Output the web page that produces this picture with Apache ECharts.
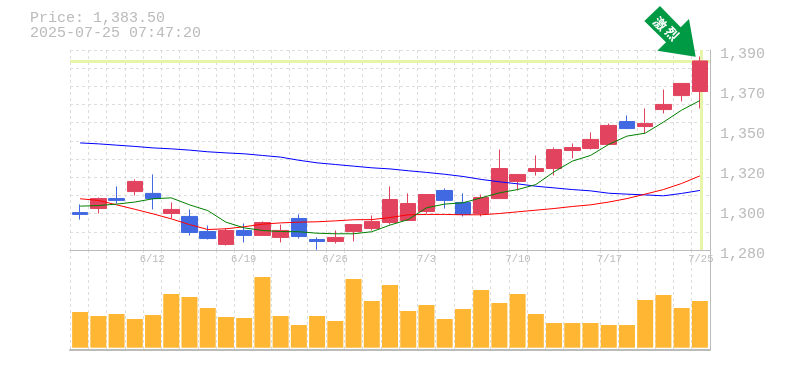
<!DOCTYPE html>
<html><head><meta charset="utf-8">
<style>html,body{margin:0;padding:0;background:#fff}#c{width:785px;height:370px}</style>
<script src="https://cdn.jsdelivr.net/npm/echarts@6/dist/echarts.min.js"></script>
</head><body><div id="c"></div>
<script>
const dates = ['6/6','6/9','6/10','6/11','6/12','6/13','6/16','6/17','6/18','6/19','6/20','6/23','6/24','6/25','6/26','6/27','6/30','7/1','7/2','7/3','7/4','7/7','7/8','7/9','7/10','7/11','7/14','7/15','7/16','7/17','7/18','7/22','7/23','7/24','7/25'];
const priceTickLabels = ['1,280','1,300','1,320','1,350','1,370','1,390'];
const opens  = [1301.2,1303.4,1308.8,1312.6,1311.6,1300.7,1299.1,1290.9,1283.9,1291.5,1288.8,1287.7,1298.0,1286.6,1285.5,1290.9,1292.6,1295.8,1296.9,1301.8,1313.2,1306.7,1300.7,1308.8,1318.1,1323.5,1325.1,1334.9,1336.0,1338.2,1350.6,1347.9,1357.1,1364.7,1366.9];
const closes = [1300.2,1308.8,1307.8,1318.1,1308.8,1302.9,1290.4,1287.1,1291.5,1288.8,1295.8,1291.5,1288.2,1285.5,1287.7,1294.7,1296.4,1308.3,1306.1,1311.0,1307.8,1300.2,1309.4,1325.1,1321.9,1325.1,1335.4,1336.5,1340.9,1348.5,1346.8,1349.5,1359.9,1371.3,1383.5];
const lows   = [1297.4,1300.7,1306.1,1310.5,1302.9,1298.0,1288.8,1286.6,1283.3,1285.0,1288.8,1285.0,1287.1,1281.0,1284.4,1285.5,1291.5,1294.7,1296.9,1300.7,1303.4,1299.1,1299.1,1308.8,1313.2,1321.3,1321.3,1330.6,1335.4,1338.2,1346.8,1344.1,1355.0,1361.5,1357.7];
const highs  = [1305.6,1309.4,1315.4,1319.2,1321.9,1306.7,1302.9,1294.2,1292.6,1295.3,1296.4,1294.7,1300.2,1287.7,1291.5,1294.7,1299.6,1315.4,1311.6,1311.0,1314.3,1311.6,1311.0,1335.4,1321.9,1332.2,1336.5,1338.7,1344.7,1349.5,1353.9,1357.7,1368.0,1371.3,1385.9];
const maGreen = [1304.7,1305.0,1305.8,1306.9,1308.7,1309.2,1305.4,1302.3,1296.0,1292.9,1291.5,1290.9,1290.8,1290.0,1289.7,1289.7,1290.8,1294.4,1297.4,1303.8,1305.8,1306.5,1309.2,1311.9,1313.7,1316.4,1323.3,1329.1,1332.2,1338.2,1342.7,1344.3,1350.3,1356.8,1362.0];
const maRed   = [1308.7,1307.8,1305.4,1303.0,1300.5,1297.8,1294.7,1292.0,1292.4,1293.5,1294.9,1295.6,1296.0,1296.2,1296.7,1297.3,1297.4,1298.5,1300.0,1300.2,1300.2,1300.0,1300.0,1300.7,1301.6,1302.5,1303.4,1304.5,1305.4,1306.9,1308.8,1311.2,1313.7,1317.0,1321.1];
const maBlue  = [1339.0,1338.5,1337.8,1337.1,1336.3,1335.8,1335.1,1334.2,1333.6,1333.1,1332.2,1331.3,1329.6,1328.2,1327.3,1326.4,1325.5,1324.9,1323.9,1323.0,1322.0,1320.8,1319.2,1317.9,1316.8,1315.5,1314.6,1313.7,1313.0,1311.7,1311.2,1310.8,1310.3,1311.6,1313.2];
const volumes = [35.7,31.7,33.7,28.7,32.7,53.7,50.7,39.7,30.7,29.7,70.7,31.7,22.7,31.7,26.7,68.7,46.7,62.7,36.7,42.7,28.7,38.7,57.7,44.7,53.7,33.7,24.7,24.7,24.7,22.7,22.7,47.7,52.7,39.7,46.7];
const lastPrice = 1383.5;

const GRAY='#bbbbbb', GRID='#dddddd', MONO='"Liberation Mono", monospace';
const dash={show:true,lineStyle:{color:GRID,type:[3,3],width:1}};
const candles=dates.map((d,i)=>[opens[i],closes[i],lows[i],highs[i]]);
const chart=echarts.init(document.getElementById('c'),null,{renderer:'canvas'});
const priceInterval=21.71, priceMin=59*priceInterval, priceMax=priceMin+5*priceInterval;
chart.setOption({
  animation:false,
  backgroundColor:'#fff',
  title:{text:'Price: 1,383.50\n2025-07-25 07:47:20',left:30,top:11,padding:0,
    textStyle:{fontFamily:MONO,fontSize:15,fontWeight:'normal',color:GRAY,lineHeight:15}},
  grid:[
    {left:70,right:75,top:50,height:200},
    {left:70,right:75,top:250,height:100},
    {left:71,right:76,top:50,height:200},
    {left:71,right:76,top:250,height:100}
  ],
  xAxis:[
    {type:'category',gridIndex:0,data:dates,boundaryGap:true,
     axisLine:{lineStyle:{color:GRAY,width:1}},axisTick:{show:false},
     splitLine:Object.assign({interval:0},dash),
     axisLabel:{interval:(i)=>i%5===4,color:GRAY,fontFamily:MONO,fontSize:10.5,margin:4,hideOverlap:false}},
    {type:'category',gridIndex:1,data:dates,boundaryGap:true,
     axisLine:{onZero:false,lineStyle:{color:GRAY,width:2}},axisTick:{show:false},axisLabel:{show:false},
     splitLine:Object.assign({interval:0},dash)},
    {type:'category',gridIndex:2,data:dates,boundaryGap:true,show:false},
    {type:'category',gridIndex:3,data:dates,boundaryGap:true,show:false}
  ],
  yAxis:[
    {type:'value',gridIndex:0,position:'right',min:priceMin,max:priceMax,interval:priceInterval,scale:true,
     axisLine:{show:true,lineStyle:{color:GRAY,width:1}},axisTick:{show:false},splitLine:{show:false},
     axisLabel:{color:GRAY,fontFamily:MONO,fontSize:15,margin:10,verticalAlign:'top',lineHeight:8,hideOverlap:false,showMinLabel:true,showMaxLabel:true,
       formatter:(v)=>priceTickLabels[Math.round((v-priceMin)/priceInterval)]}},
    {type:'value',gridIndex:0,position:'right',min:0,max:11,interval:1,
     axisLine:{show:false},axisTick:{show:false},axisLabel:{show:false},splitLine:dash},
    {type:'value',gridIndex:1,position:'right',min:0,max:100,
     axisLine:{show:true,lineStyle:{color:GRAY,width:1}},axisTick:{show:false},axisLabel:{show:false},splitLine:{show:false}},
    {type:'value',gridIndex:2,min:priceMin,max:priceMax,scale:true,show:false},
    {type:'value',gridIndex:3,min:-2.3,max:97.7,show:false}
  ],
  series:[
    {type:'line',name:'ref',xAxisIndex:0,yAxisIndex:0,data:[],z:1,silent:true,
     markLine:{z:1,silent:true,symbol:'none',label:{show:false},animation:false,
       lineStyle:{color:'#e6f5a9',width:3,type:'solid'},
       data:[{yAxis:lastPrice},{xAxis:dates[dates.length-1]}]}},
    {type:'line',name:'ma25',xAxisIndex:2,yAxisIndex:3,data:maBlue,symbol:'none',z:3,lineStyle:{color:'#0000ff',width:1}},
    {type:'line',name:'ma13',xAxisIndex:2,yAxisIndex:3,data:maRed,symbol:'none',z:3,lineStyle:{color:'#ff0000',width:1}},
    {type:'candlestick',xAxisIndex:2,yAxisIndex:3,data:candles,barWidth:16,z:2,
     itemStyle:{color:'#e2445f',color0:'#4169e1',borderColor:'#e2445f',borderColor0:'#4169e1',borderWidth:1}},
    {type:'line',name:'ma5',xAxisIndex:2,yAxisIndex:3,data:maGreen,symbol:'none',z:3,lineStyle:{color:'#008000',width:1}},
    {type:'bar',xAxisIndex:3,yAxisIndex:4,data:volumes,barWidth:16,itemStyle:{color:'#ffb733'}}
  ],
  graphic:[
    {type:'polygon',z:10,shape:{points:[[660,6],[644.3,21],[666,42.3],[657.3,50.7],[695.7,56.7],[689,19],[680.7,27.3]]},style:{fill:'#009944'}},
    {type:'text',z:11,x:660,y:23.5,rotation:-Math.PI/4,style:{text:'激',fill:'#fff',font:'bold 13px "Noto Sans CJK JP"',align:'center',verticalAlign:'middle'}},
    {type:'text',z:11,x:672,y:33.5,rotation:-Math.PI/4,style:{text:'烈',fill:'#fff',font:'bold 13px "Noto Sans CJK JP"',align:'center',verticalAlign:'middle'}}
  ]
});
</script></body></html>
